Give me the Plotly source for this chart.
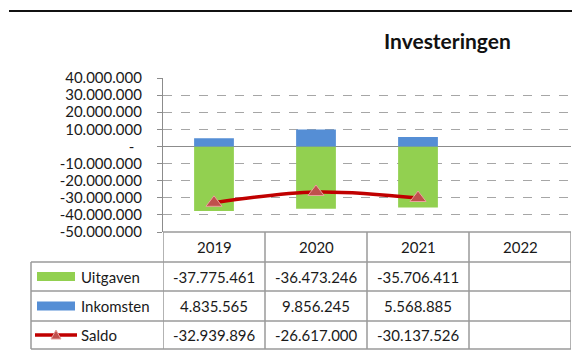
import plotly.graph_objects as go

# Investment figures per year (euro)
years = ["2019", "2020", "2021", "2022"]
uitgaven = [-37775461, -36473246, -35706411, None]
inkomsten = [4835565, 9856245, 5568885, None]
saldo = [-32939896, -26617000, -30137526, None]

series_names = ["Uitgaven", "Inkomsten", "Saldo"]
y_ticks = [40e6, 30e6, 20e6, 10e6, 0, -10e6, -20e6, -30e6, -40e6, -50e6]

W, H = 572, 350
GREEN = "#92D050"
BLUE = "#558ED5"
RED = "#C00000"
MARKER = "#C0504D"
GRID = "#A6A6A6"
BORDER = "#9A9A9A"
TEXT = "#1A1A1A"
FONT = "Lato"


def px(x):
    return x / W


def py(y):
    return 1 - y / H


def fmt(v):
    if v is None:
        return ""
    return f"{v:,.0f}".replace(",", ".")


def tick_label(v):
    if v == 0:
        return "-\u00a0\u00a0"
    return fmt(v)


fig = go.Figure()
fig.add_trace(go.Bar(x=years, y=uitgaven, name=series_names[0],
                     marker=dict(color=GREEN, line=dict(width=0)), width=0.39))
fig.add_trace(go.Bar(x=years, y=inkomsten, name=series_names[1],
                     marker=dict(color=BLUE, line=dict(width=0)), width=0.39))
fig.add_trace(go.Scatter(x=years, y=saldo, name=series_names[2], mode="lines+markers",
                         line=dict(color=RED, width=3.5, shape="spline", smoothing=1),
                         marker=dict(symbol="triangle-up", size=14, color=MARKER,
                                     line=dict(color="#E9A39D", width=1))))

plot_left, plot_right, plot_top, plot_bottom = 163, 571, 78, 232

fig.update_layout(
    width=W, height=H,
    margin=dict(l=0, r=0, t=0, b=0, autoexpand=False),
    paper_bgcolor="white", plot_bgcolor="white",
    barmode="relative", showlegend=False,
    font=dict(family=FONT, size=15, color=TEXT),
    xaxis=dict(domain=[px(plot_left), px(plot_right)], range=[-0.5, 3.5],
               type="category", showticklabels=False, showgrid=False,
               zeroline=False, showline=False, fixedrange=True, automargin=False),
    yaxis=dict(domain=[py(plot_bottom), py(plot_top)], range=[-50e6, 40e6],
               tickvals=y_ticks, ticktext=[tick_label(v) for v in y_ticks],
               showgrid=True, gridcolor=GRID, griddash="dash", gridwidth=1,
               zeroline=True, zerolinecolor="#8C8C8C", zerolinewidth=1.2,
               showline=True, linecolor="#8C8C8C", linewidth=1.2,
               ticks="outside", ticklen=5, tickcolor="#8C8C8C",
               ticklabelstandoff=12, automargin=False,
               tickfont=dict(family=FONT, size=15, color=TEXT), fixedrange=True),
)

shapes = []
# Rule across the top of the page
shapes.append(dict(type="line", xref="paper", yref="paper", x0=px(9), x1=px(572),
                   y0=py(11), y1=py(11), line=dict(color="#111111", width=2.2)))

# Data table grid
row_lines = [232, 262, 291, 321, 349]
for i, yl in enumerate(row_lines):
    if i == 0:
        shapes.append(dict(type="line", xref="x", yref="paper", x0=-0.5, x1=3.5,
                           y0=py(yl), y1=py(yl), line=dict(color=BORDER, width=1.5)))
    else:
        shapes.append(dict(type="line", xref="paper", yref="paper", x0=px(31), x1=px(plot_right),
                           y0=py(yl), y1=py(yl), line=dict(color=BORDER, width=1.5)))
for k in range(len(years) + 1):
    shapes.append(dict(type="line", xref="x", yref="paper", x0=k - 0.5, x1=k - 0.5,
                       y0=py(232), y1=py(349), line=dict(color=BORDER, width=1.5)))
shapes.append(dict(type="line", xref="paper", yref="paper", x0=px(31), x1=px(31),
                   y0=py(262), y1=py(349), line=dict(color=BORDER, width=1.5)))

# Legend keys inside the table
row_centers = [276.5, 306, 335]
shapes.append(dict(type="rect", xref="paper", yref="paper", x0=px(37), x1=px(75),
                   y0=py(row_centers[0] - 4.5), y1=py(row_centers[0] + 4.5),
                   fillcolor=GREEN, line=dict(width=0)))
shapes.append(dict(type="rect", xref="paper", yref="paper", x0=px(37), x1=px(75),
                   y0=py(row_centers[1] - 4.5), y1=py(row_centers[1] + 4.5),
                   fillcolor=BLUE, line=dict(width=0)))
shapes.append(dict(type="line", xref="paper", yref="paper", x0=px(35), x1=px(77),
                   y0=py(row_centers[2]), y1=py(row_centers[2]),
                   line=dict(color=RED, width=3.5)))
shapes.append(dict(type="path", xref="paper", yref="paper",
                   path=f"M {px(51)},{py(339)} L {px(61)},{py(339)} L {px(56)},{py(330)} Z",
                   fillcolor=MARKER, line=dict(color="#E9A39D", width=1)))

annotations = []
annotations.append(dict(text="<b>Investeringen</b>", xref="paper", yref="paper",
                        x=px(447), y=py(41), xanchor="center", yanchor="middle",
                        showarrow=False,
                        font=dict(family=FONT, size=21, color="#111111")))
for i, yr in enumerate(years):
    annotations.append(dict(text=yr, xref="x", yref="paper", x=i, y=py(247),
                            xanchor="center", yanchor="middle",
                            showarrow=False, font=dict(size=15, color=TEXT)))
for name, vals, yc in zip(series_names, [uitgaven, inkomsten, saldo], row_centers):
    annotations.append(dict(text=name, xref="paper", yref="paper", x=px(79), y=py(yc),
                            xanchor="left", yanchor="middle",
                            showarrow=False, font=dict(size=15, color=TEXT)))
    for i, v in enumerate(vals):
        if v is None:
            continue
        annotations.append(dict(text=fmt(v), xref="x", yref="paper", x=i, y=py(yc),
                                xanchor="center", yanchor="middle",
                                showarrow=False, font=dict(size=15, color=TEXT)))

fig.update_layout(shapes=shapes, annotations=annotations)
fig.write_html("out.html")
